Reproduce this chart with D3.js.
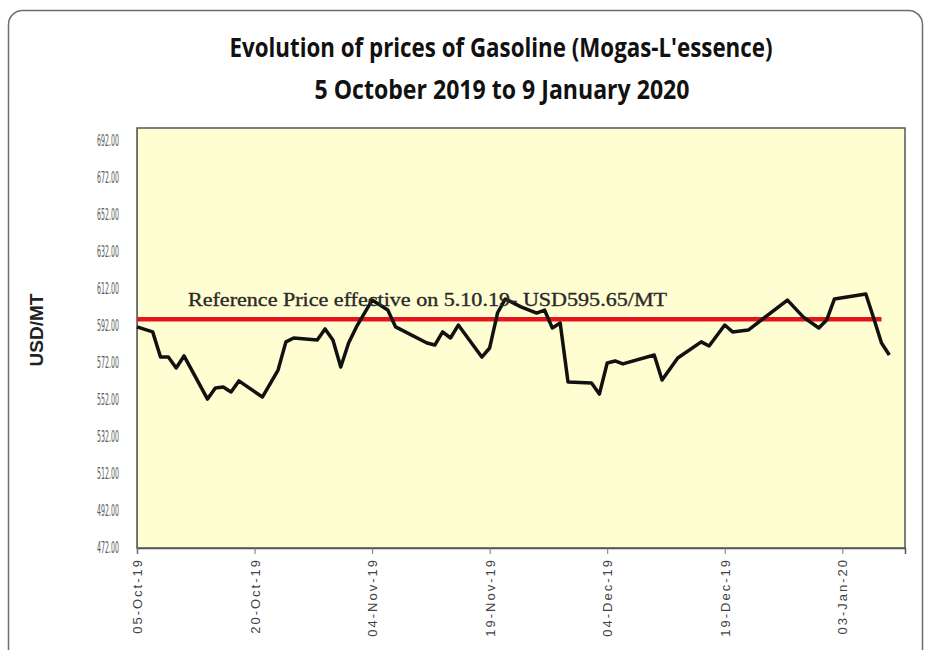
<!DOCTYPE html>
<html>
<head>
<meta charset="utf-8">
<script src="https://cdn.jsdelivr.net/npm/d3@7"></script>
<style>
  html, body { margin: 0; padding: 0; background: #fff; }
  svg { display: block; }
</style>
</head>
<body>
<svg id="chart" width="931" height="650"></svg>
<script>
// ---- data ----
const titleLines = ["Evolution  of prices of Gasoline (Mogas-L'essence)", "5 October 2019 to 9 January  2020"];
const yAxisTitle = "USD/MT";
const refLabel = "Reference Price effective on 5.10.19- USD595.65/MT";
const refPrice = 595.65;
const refRange = ["2019-10-05", "2020-01-08"];

const dates = [
  "2019-10-05","2019-10-07","2019-10-08","2019-10-09","2019-10-10","2019-10-11",
  "2019-10-14","2019-10-15","2019-10-16","2019-10-17","2019-10-18","2019-10-21",
  "2019-10-23","2019-10-24","2019-10-25","2019-10-28","2019-10-29","2019-10-30",
  "2019-10-31","2019-11-01","2019-11-02","2019-11-04","2019-11-06","2019-11-07",
  "2019-11-11","2019-11-12","2019-11-13","2019-11-14","2019-11-15","2019-11-18",
  "2019-11-19","2019-11-20","2019-11-21","2019-11-23","2019-11-25","2019-11-26",
  "2019-11-27","2019-11-28","2019-11-29","2019-12-02","2019-12-03","2019-12-04",
  "2019-12-05","2019-12-06","2019-12-10","2019-12-11","2019-12-13","2019-12-16",
  "2019-12-17","2019-12-19","2019-12-20","2019-12-22","2019-12-27","2019-12-29",
  "2019-12-31","2020-01-01","2020-01-02","2020-01-06","2020-01-07","2020-01-08",
  "2020-01-09"
];
const prices = [
  591.5,588.8,575.2,575.2,569.3,575.8,
  552.5,558.5,559.0,556.3,562.3,553.6,
  568.2,583.4,585.5,584.4,590.4,584.4,
  569.8,582.8,591.5,606.0,600.6,591.5,
  582.8,581.7,588.8,585.5,592.5,575.2,
  580.1,599.0,606.6,602.3,599.0,600.6,
  590.9,593.6,561.7,561.2,555.2,572.0,
  573.1,571.5,576.3,562.8,574.7,583.4,
  581.2,592.5,588.8,589.8,606.0,596.9,
  590.9,595.2,606.6,609.3,596.3,582.8,
  576.3
];
const xTickDates = ["2019-10-05","2019-10-20","2019-11-04","2019-11-19","2019-12-04","2019-12-19","2020-01-03"];
const yTickValues = [472,492,512,532,552,572,592,612,632,652,672,692];

// ---- drawing ----
const parse = d3.timeParse("%Y-%m-%d");
const svg = d3.select("#chart");

const plot = {left: 137, right: 905, top: 128, bottom: 548};

const x = d3.scaleTime()
  .domain([parse("2019-10-05"), parse("2020-01-11")])
  .range([plot.left, plot.right]);
const y = d3.scaleLinear()
  .domain([472, 699])
  .range([plot.bottom, plot.top]);

// outer rounded frame
svg.append("rect")
  .attr("x", 8.5).attr("y", 10.5).attr("width", 914).attr("height", 660)
  .attr("rx", 14).attr("ry", 14)
  .attr("fill", "#fff").attr("stroke", "#6e6e6e").attr("stroke-width", 1.5);

// titles
const titleFont = "'Liberation Sans Narrow', 'Open Sans', 'Liberation Sans', sans-serif";
svg.append("text")
  .attr("x", 501).attr("y", 57)
  .attr("text-anchor", "middle")
  .attr("font-family", titleFont).attr("font-weight", "bold").attr("font-size", 27)
  .attr("fill", "#111")
  .attr("textLength", 543).attr("lengthAdjust", "spacingAndGlyphs")
  .text(titleLines[0]);
svg.append("text")
  .attr("x", 502).attr("y", 99)
  .attr("text-anchor", "middle")
  .attr("font-family", titleFont).attr("font-weight", "bold").attr("font-size", 27)
  .attr("fill", "#111")
  .attr("textLength", 375).attr("lengthAdjust", "spacingAndGlyphs")
  .text(titleLines[1]);

// plot area
svg.append("rect")
  .attr("x", plot.left).attr("y", plot.top)
  .attr("width", plot.right - plot.left).attr("height", plot.bottom - plot.top)
  .attr("fill", "#FFFED2").attr("stroke", "#555").attr("stroke-width", 1.5);

// y axis
const yAxis = d3.axisLeft(y)
  .tickValues(yTickValues)
  .tickFormat(d3.format(".2f"))
  .tickSize(0)
  .tickPadding(18);
const gy = svg.append("g").attr("transform", `translate(${plot.left},0)`).call(yAxis);
gy.select(".domain").attr("stroke", "#666");
gy.selectAll(".tick text")
  .attr("font-family", "'Liberation Sans Narrow', 'DejaVu Sans Condensed', sans-serif")
  .attr("font-size", 15).attr("fill", "#5a5a5a")
  .attr("textLength", 22).attr("lengthAdjust", "spacingAndGlyphs");

// y axis title
svg.append("text")
  .attr("transform", `translate(43,330) rotate(-90)`)
  .attr("text-anchor", "middle")
  .attr("font-family", "'Liberation Sans', Arial, sans-serif")
  .attr("font-weight", "bold").attr("font-size", 19).attr("fill", "#222")
  .text(yAxisTitle);

// x axis
const xAxis = d3.axisBottom(x)
  .tickValues(xTickDates.map(parse))
  .tickFormat(d3.timeFormat("%d-%b-%y"))
  .tickSize(6);
const gx = svg.append("g").attr("transform", `translate(0,${plot.bottom})`).call(xAxis);
gx.select(".domain").attr("stroke", "#555").attr("stroke-width", 1.5);
gx.selectAll(".tick line").attr("stroke", "#777");
gx.selectAll(".tick text")
  .attr("font-family", "'Liberation Sans', Arial, sans-serif")
  .attr("font-size", 13).attr("fill", "#444")
  .attr("letter-spacing", 2)
  .attr("text-anchor", "end")
  .attr("transform", "rotate(-90)")
  .attr("x", -10).attr("y", 0)
  .attr("dy", "0.35em");

// reference line
svg.append("line")
  .attr("x1", x(parse(refRange[0]))).attr("x2", x(parse(refRange[1])))
  .attr("y1", y(refPrice)).attr("y2", y(refPrice))
  .attr("stroke", "#E3161B").attr("stroke-width", 4.5);

// price line
const pts = dates.map((d, i) => ({date: parse(d), value: prices[i]}));
const line = d3.line().x(d => x(d.date)).y(d => y(d.value));
svg.append("path")
  .datum(pts)
  .attr("d", line)
  .attr("fill", "none")
  .attr("stroke", "#111")
  .attr("stroke-width", 3.5)
  .attr("stroke-linejoin", "round");

// annotation
svg.append("text")
  .attr("x", 188).attr("y", 306)
  .attr("font-family", "'Liberation Serif', 'DejaVu Serif', serif")
  .attr("font-size", 19).attr("fill", "#2a2a2a")
  .attr("stroke", "#2a2a2a").attr("stroke-width", 0.35)
  .attr("textLength", 479).attr("lengthAdjust", "spacingAndGlyphs")
  .text(refLabel);
</script>
</body>
</html>
